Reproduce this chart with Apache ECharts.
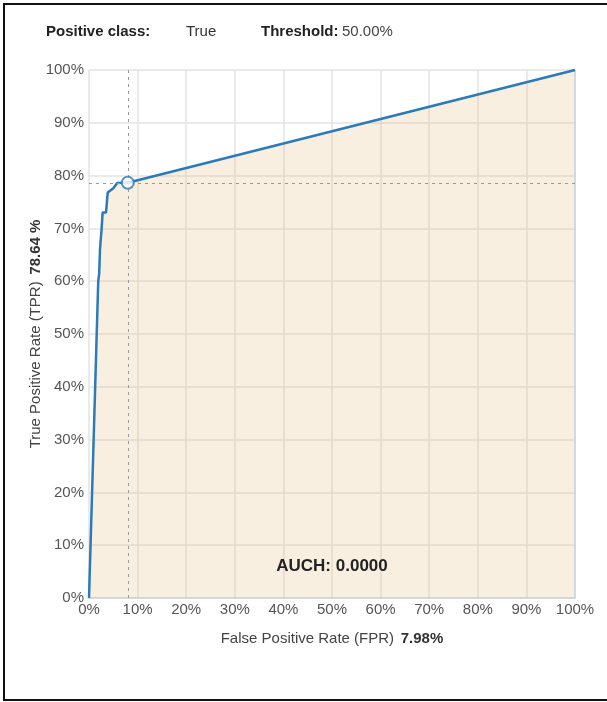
<!DOCTYPE html>
<html>
<head>
<meta charset="utf-8">
<script src="https://cdn.jsdelivr.net/npm/echarts@6/dist/echarts.min.js"></script>
<style>
  html, body { margin: 0; padding: 0; background: #fff; }
  #chart { width: 607px; height: 702px; }
</style>
</head>
<body>
<div id="chart"></div>
<script>
// ROC curve points (FPR %, TPR %)
var fprValues = [0, 1.27, 1.9, 2.1, 2.26, 2.6, 2.8, 3.5, 3.85, 5.0, 5.8, 6.7, 7.98, 100];
var tprValues = [0, 40, 60, 61.5, 66, 70, 73, 73, 76.8, 77.6, 78.6, 78.64, 78.64, 100];

var thresholdFpr = 7.98;
var thresholdTpr = 78.64;
var thresholdText = '50.00%';
var positiveClass = 'True';
var auchText = 'AUCH: 0.0000';

var rocPoints = fprValues.map(function (x, i) { return [x, tprValues[i]]; });
// polygon for shaded area: curve then down the right edge
var fillPoints = rocPoints.concat([[100, 0]]);

var labelColor = '#555';
var lineBlue = '#2b7bba';
var font = 'Liberation Sans, Arial, sans-serif';

var chart = echarts.init(document.getElementById('chart'), null, { renderer: 'canvas' });

chart.setOption({
    backgroundColor: '#fff',
    animation: false,
    textStyle: { fontFamily: font },
    grid: { left: 89, right: 32, top: 70, bottom: 104 },
    graphic: [
        {
            type: 'rect',
            shape: { x: 4, y: 4, width: 640, height: 696 },
            style: { fill: 'none', stroke: '#111', lineWidth: 2 }
        },
        { type: 'text', left: 46, top: 24, style: { text: 'Positive class:', font: 'bold 15px ' + font, fill: '#222' } },
        { type: 'text', left: 186, top: 24, style: { text: positiveClass, font: '15px ' + font, fill: '#333' } },
        { type: 'text', left: 261, top: 24, style: { text: 'Threshold:', font: 'bold 15px ' + font, fill: '#222' } },
        { type: 'text', left: 342, top: 24, style: { text: thresholdText, font: '15px ' + font, fill: '#444' } },
        {
            type: 'text', x: 332, y: 566, z: 100,
            style: { text: auchText, font: 'bold 17px ' + font, fill: '#222', align: 'center', verticalAlign: 'middle' }
        }
    ],
    xAxis: {
        type: 'value',
        min: 0,
        max: 100,
        interval: 10,
        name: '{n|False Positive Rate (FPR)}  {b|' + thresholdFpr.toFixed(2) + '%}',
        nameLocation: 'middle',
        nameGap: 33,
        nameTextStyle: {
            rich: {
                n: { fontSize: 15, color: '#444', fontFamily: font },
                b: { fontSize: 15, color: '#333', fontWeight: 'bold', fontFamily: font }
            }
        },
        axisLine: { show: true, lineStyle: { color: '#c5d7dc', width: 1.5 } },
        axisTick: { show: false },
        axisLabel: { color: labelColor, fontSize: 15, margin: 4, formatter: '{value}%' },
        splitLine: { show: true, lineStyle: { color: '#e3e3e3', width: 1.5 } }
    },
    yAxis: {
        type: 'value',
        min: 0,
        max: 100,
        interval: 10,
        name: '{n|True Positive Rate (TPR)}  {b|' + thresholdTpr.toFixed(2) + ' %}',
        nameLocation: 'middle',
        nameRotate: 90,
        nameGap: 46,
        nameMoveOverlap: false,
        nameTextStyle: {
            rich: {
                n: { fontSize: 15, color: '#444', fontFamily: font },
                b: { fontSize: 15, color: '#333', fontWeight: 'bold', fontFamily: font }
            }
        },
        axisLine: { show: false },
        axisTick: { show: false },
        axisLabel: { color: labelColor, fontSize: 15, margin: 5, formatter: '{value}%' },
        splitLine: { show: true, lineStyle: { color: '#e3e3e3', width: 1.5 } }
    },
    series: [
        {
            name: 'area',
            type: 'line',
            data: fillPoints,
            symbol: 'none',
            silent: true,
            lineStyle: { color: '#c5d7dc', width: 1.5 },
            areaStyle: { color: 'rgba(232,189,129,0.35)', origin: 'start' },
            z: 2
        },
        {
            name: 'ROC',
            type: 'line',
            data: rocPoints,
            symbol: 'none',
            lineStyle: { color: lineBlue, width: 2.5 },
            z: 4,
            markLine: {
                silent: true,
                symbol: 'none',
                label: { show: false },
                lineStyle: { color: '#999', type: [3, 4], width: 1 },
                data: [
                    [{ coord: [thresholdFpr, 0] }, { coord: [thresholdFpr, 100] }],
                    [{ coord: [0, thresholdTpr] }, { coord: [100, thresholdTpr] }]
                ]
            }
        },
        {
            name: 'threshold',
            type: 'scatter',
            data: [[thresholdFpr, thresholdTpr]],
            symbol: 'circle',
            symbolSize: 12,
            itemStyle: { color: '#fff', borderColor: lineBlue, borderWidth: 2 },
            z: 6
        }
    ]
});
</script>
</body>
</html>
